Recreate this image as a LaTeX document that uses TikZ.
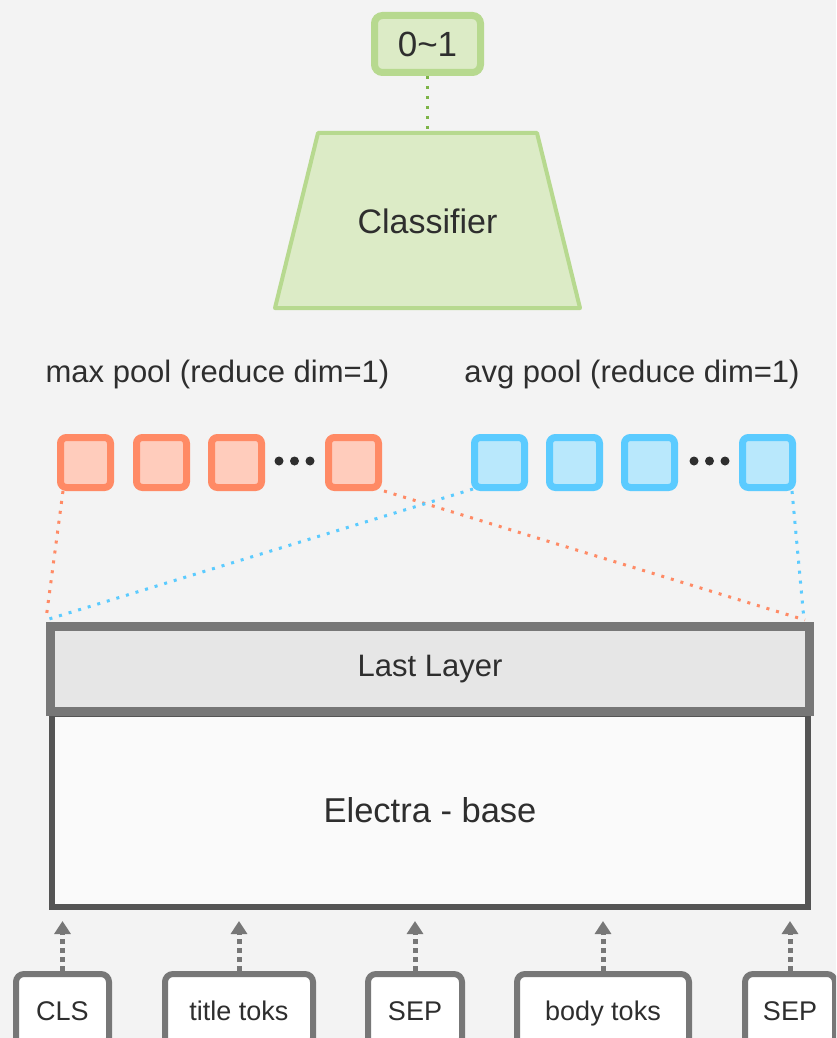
\documentclass[tikz,border=0pt]{standalone}
\usepackage{fontspec}
\setmainfont{Liberation Sans}
\usetikzlibrary{arrows.meta,calc}
\definecolor{bg}{HTML}{F3F3F3}
\definecolor{ink}{HTML}{2E2E2E}
\definecolor{grnline}{HTML}{B7D98F}
\definecolor{grnfill}{HTML}{DCEBC6}
\definecolor{grndot}{HTML}{7CB447}
\definecolor{orline}{HTML}{FF8A65}
\definecolor{orfill}{HTML}{FFCCBC}
\definecolor{blline}{HTML}{5BCBFF}
\definecolor{blfill}{HTML}{B9E8FC}
\definecolor{gline}{HTML}{777777}
\definecolor{gdark}{HTML}{545454}
\definecolor{layerfill}{HTML}{E6E6E6}
\definecolor{basefill}{HTML}{FAFAFA}
\tikzset{
  lbl/.style={text=ink, inner sep=0pt},
  cell/.style={draw, line width=7pt, rounded corners=6pt, minimum size=50pt, inner sep=0pt},
  orcell/.style={cell, draw=orline, fill=orfill},
  blcell/.style={cell, draw=blline, fill=blfill},
  dotdot/.style={circle, fill=ink, minimum size=9pt, inner sep=0pt},
  dotline/.style={line width=3pt, dash pattern=on 3pt off 7pt},
  token/.style={draw=gline, fill=white, line width=6pt, rounded corners=8pt, text=ink, inner sep=0pt, minimum height=72pt, text height=20pt, text depth=0pt, font=\fontsize{27}{31}\selectfont},
  feed/.style={draw=gline, line width=5pt, dash pattern=on 5pt off 4pt, -{Triangle[length=13pt,width=16pt]}}
}
\begin{document}
\begin{tikzpicture}[x=1pt,y=-1pt]
\fill[bg] (0,0) rectangle (836,1038);
\useasboundingbox (0,0) rectangle (836,1038);
\clip (0,0) rectangle (836,1038);

% output score
\node[draw=grnline, fill=grnfill, line width=7pt, rounded corners=8pt, minimum width=106pt, minimum height=57pt, inner sep=0pt, text=ink, font=\fontsize{35}{40}\selectfont] (score) at (427.5,44) {0\textasciitilde 1};

% classifier head
\draw[draw=grnline, fill=grnfill, line width=4pt, line join=round] (318,133) -- (537,133) -- (580,308) -- (275,308) -- cycle;
\coordinate (clstop) at (427.5,131);
\node[lbl, font=\fontsize{34}{39}\selectfont] (clf) at (427.5,221) {Classifier};
\draw[grndot, dotline] (score.south) -- (clstop);

% pooling labels
\node[lbl, font=\fontsize{31}{36}\selectfont] (maxlbl) at (217.5,374) {max pool (reduce dim=1)};
\node[lbl, font=\fontsize{31}{36}\selectfont] (avglbl) at (632,374) {avg pool (reduce dim=1)};

% max-pooled features
\node[orcell] (o1) at (85.5,462.5) {};
\node[orcell] (o2) at (161.5,462.5) {};
\node[orcell] (o3) at (236.5,462.5) {};
\node[dotdot] (od1) at (279,461) {};
\node[dotdot] (od2) at (294.5,461) {};
\node[dotdot] (od3) at (310,461) {};
\node[orcell] (o4) at (353.5,462.5) {};

% avg-pooled features
\node[blcell] (b1) at (499.5,462.5) {};
\node[blcell] (b2) at (574.5,462.5) {};
\node[blcell] (b3) at (649.5,462.5) {};
\node[dotdot] (bd1) at (694,461) {};
\node[dotdot] (bd2) at (709.5,461) {};
\node[dotdot] (bd3) at (725,461) {};
\node[blcell] (b4) at (767.5,462.5) {};

% encoder
\node[draw=gline, fill=layerfill, line width=6pt, minimum width=756pt, minimum height=82pt, inner sep=0pt, anchor=north west, text=ink, font=\fontsize{31}{36}\selectfont] (last) at (49,625) {Last Layer};
\node[draw=gdark, fill=basefill, line width=6pt, minimum width=756pt, minimum height=193pt, inner sep=0pt, anchor=north west, text=ink, font=\fontsize{34.5}{40}\selectfont] (base) at (49,711) {Electra - base};
\draw[draw=gline, line width=6pt] (last.north west) rectangle (last.south east);

% pooling fans
\coordinate (lt) at (46,619);
\coordinate (rt) at (805,620);
\draw[orline, dotline] ($(o1.south west)+(6,0)$) -- (lt);
\draw[orline, dotline] ($(o4.south east)+(2,0)$) -- (rt);
\draw[blline, dotline] ($(b1.south west)+(2,-2)$) -- ($(lt)+(3,0)$);
\draw[blline, dotline] ($(b4.south east)+(-4,0)$) -- ($(rt)+(-1,0)$);

% input tokens
\node[token, minimum width=93pt] (t1) at (62.5,1010) {CLS};
\node[token, minimum width=148pt] (t2) at (239,1010) {title toks};
\node[token, minimum width=94pt] (t3) at (415,1010) {SEP};
\node[token, minimum width=172pt] (t4) at (603,1010) {body toks};
\node[token, minimum width=90pt] (t5) at (790,1010) {SEP};

\foreach \t/\x in {t1/62.5,t2/239,t3/415,t4/603,t5/790}{
  \coordinate (\t top) at (\x,921);
  \draw[feed] (\t.north) -- (\t top);
}
\end{tikzpicture}
\end{document}
